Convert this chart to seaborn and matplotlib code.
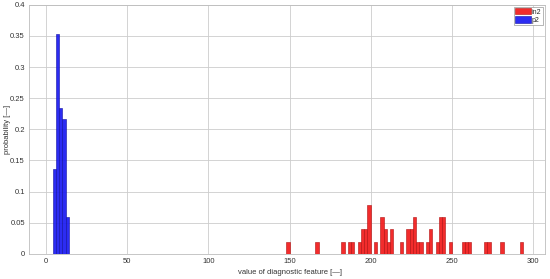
"""
Histogram of a diagnostic feature for two samples (p2 and in2),
drawn in a MATLAB-like look with seaborn.
"""

import numpy as np
import pandas as pd
import matplotlib.pyplot as plt
import seaborn as sns


OUTPUT_FILE = "out.png"

BIN_WIDTH = 2.0

# p2 sample: bin left edges and probabilities
p2_bins = [4, 6, 8, 10, 12]
p2_prob = [0.137, 0.353, 0.235, 0.216, 0.059]

# in2 sample: bin left edges and probabilities
in2_bins = [148, 166, 182, 186, 188, 192, 194, 196, 198, 202, 206, 208, 210,
            212, 218, 222, 224, 226, 228, 230, 234, 236, 240, 242, 244, 248,
            256, 258, 260, 270, 272, 280, 292]
in2_prob = [0.0196, 0.0196, 0.0196, 0.0196, 0.0196, 0.0196, 0.0392, 0.0392,
            0.0784, 0.0196, 0.0588, 0.0392, 0.0196, 0.0392, 0.0196, 0.0392,
            0.0392, 0.0588, 0.0196, 0.0196, 0.0196, 0.0392, 0.0196, 0.0588,
            0.0588, 0.0196, 0.0196, 0.0196, 0.0196, 0.0196, 0.0196, 0.0196,
            0.0196]

x_ticks = [0, 50, 100, 150, 200, 250, 300]
y_ticks = [0, 0.05, 0.1, 0.15, 0.2, 0.25, 0.3, 0.35, 0.4]
y_ticklabels = ["0", "0.05", "0.1", "0.15", "0.2", "0.25", "0.3", "0.35", "0.4"]


def build_frame(lefts, probs, name):
    lefts = np.asarray(lefts, dtype=float)
    return pd.DataFrame({
        "value": lefts + BIN_WIDTH / 2,
        "prob": probs,
        "sample": name,
    })


def main():
    sns.set_theme(style="whitegrid")
    plt.rcParams["font.family"] = ["Liberation Sans", "DejaVu Sans"]

    df_p2 = build_frame(p2_bins, p2_prob, "p2")
    df_in2 = build_frame(in2_bins, in2_prob, "in2")
    edges = [float(e) for e in np.arange(0, 300 + BIN_WIDTH, BIN_WIDTH)]

    fig, ax = plt.subplots(figsize=(5.5, 2.79), dpi=100)
    fig.subplots_adjust(left=0.053, right=0.991, top=0.983, bottom=0.09)

    sns.histplot(data=df_in2, x="value", weights="prob", bins=edges,
                 color="#f22020", edgecolor="#b01010", linewidth=0.4,
                 alpha=0.95, label="in2", ax=ax)
    sns.histplot(data=df_p2, x="value", weights="prob", bins=edges,
                 color="#2020f2", edgecolor="#1010a0", linewidth=0.4,
                 alpha=0.95, label="p2", ax=ax)

    ax.set_xlim(-10.5, 307.5)
    ax.set_ylim(0, 0.4)
    ax.set_xticks(x_ticks)
    ax.set_xticklabels([str(t) for t in x_ticks])
    ax.set_yticks(y_ticks)
    ax.set_yticklabels(y_ticklabels)

    ax.set_xlabel("value of diagnostic feature [\u2014]", fontsize=5.5,
                  color="#333333")
    ax.set_ylabel("probability [\u2014]", fontsize=5.5, color="#333333")
    ax.xaxis.set_label_coords(0.505, -0.06)
    ax.yaxis.set_label_coords(-0.035, 0.5)

    ax.grid(True, color="#cccccc", linewidth=0.6)
    ax.set_axisbelow(True)
    for side in ("left", "right", "top", "bottom"):
        ax.spines[side].set_visible(True)
        ax.spines[side].set_color("#bdbdbd")
        ax.spines[side].set_linewidth(0.6)
    ax.tick_params(axis="both", labelsize=5.5, labelcolor="#333333",
                   direction="in", length=2, width=0.5, color="#888888",
                   pad=3)

    leg = ax.legend(loc="upper right", fontsize=5, frameon=True,
                    fancybox=False, framealpha=1, edgecolor="#999999",
                    handlelength=2.2, handleheight=1.0, handletextpad=0.2,
                    borderpad=0.2, labelspacing=0.1, borderaxespad=0.3)
    leg.get_frame().set_linewidth(0.5)

    fig.savefig(OUTPUT_FILE, dpi=100)


if __name__ == "__main__":
    main()
